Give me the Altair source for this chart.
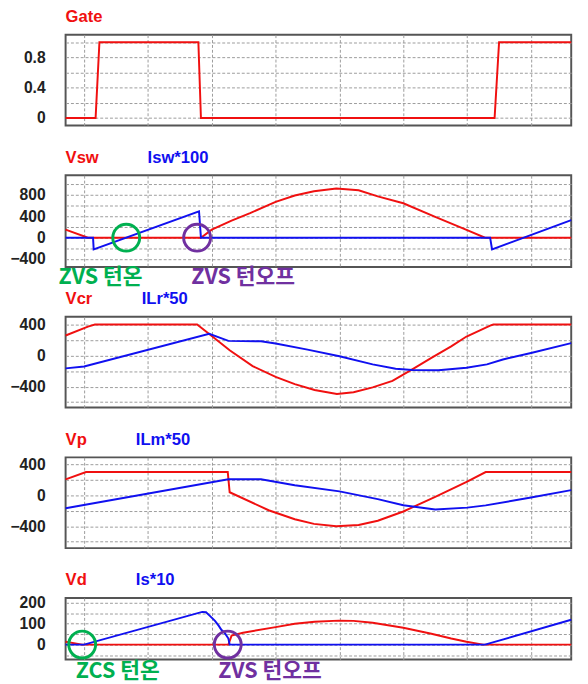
import altair as alt
import pandas as pd

RED = "#f01010"
BLUE = "#1010f0"
GREEN = "#00b050"
PURPLE = "#7030a0"
T_MIN, T_MAX = -0.29, 7.63

# ---- data (time in grid divisions) ----
gate_t = [-0.29, 0.18, 0.24, 1.79, 1.83, 6.43, 6.50, 7.63]
gate_v = [0, 0, 1, 1, 0, 0, 1, 1]

vsw_t = [-0.29, 0.06, 1.83, 2.0, 2.31, 2.6, 3.0, 3.3, 3.6, 3.95, 4.3, 4.6, 5.0, 5.5, 6.0, 6.28, 7.63]
vsw_v = [150, 0, 0, 150, 320, 460, 670, 790, 870, 920, 890, 775, 645, 390, 140, 0, 0]
isw_t = [-0.29, 0.14, 0.15, 1.80, 1.83, 6.36, 6.39, 7.63]
isw_v = [0, 0, -220, 495, 0, 0, -220, 330]

vcr_t = [-0.29, 0.06, 0.17, 1.77, 1.97, 2.28, 2.64, 3.0, 3.30, 3.61, 3.96, 4.22, 4.52, 4.83, 5.14, 5.44, 5.75, 5.99, 6.36, 6.41, 7.63]
vcr_v = [259, 373, 400, 400, 272, 69, -135, -274, -367, -443, -494, -473, -410, -325, -177, -29, 119, 246, 386, 400, 400]
ilr_t = [-0.29, 0.0, 1.96, 2.26, 2.77, 3.0, 3.5, 4.0, 4.52, 4.88, 5.14, 5.55, 5.99, 6.31, 6.56, 7.0, 7.63]
ilr_v = [-165, -140, 280, 190, 185, 155, 77, -8, -113, -169, -185, -189, -156, -113, -50, 34, 161]

vp_t = [-0.29, 0.03, 2.25, 2.28, 2.89, 3.30, 3.6, 3.95, 4.3, 4.6, 5.0, 5.5, 6.0, 6.29, 7.63]
vp_v = [206, 300, 300, 39, -194, -310, -370, -400, -385, -330, -210, -20, 175, 300, 300]
ilm_t = [-0.29, 2.26, 2.77, 3.30, 4.0, 4.6, 5.0, 5.5, 6.0, 6.29, 7.0, 7.63]
ilm_v = [-168, 206, 206, 129, 50, -50, -130, -185, -160, -131, -30, 66]

vd_t = [-0.29, -0.03, 2.26, 2.31, 2.49, 3.0, 3.30, 3.61, 3.99, 4.22, 4.52, 5.0, 5.44, 5.75, 5.99, 6.25, 7.63]
vd_v = [14, 0, 0, 43, 57, 84, 100, 110, 115, 114, 105, 81, 52, 29, 14, 0, 0]
is_t = [-0.29, 0.0, 1.85, 1.91, 1.97, 2.05, 2.11, 2.15, 2.20, 2.26, 2.28, 6.28, 7.63]
is_v = [0, 0, 157, 155, 138, 114, 90, 71, 57, 29, 0, 0, 119]

# annotations: (time, value, label)
ann_circles_sw = [(0.66, 0, "g"), (1.77, 0, "p")]
ann_text_sw = [(-0.40, -745, "ZVS 턴온", "g"), (1.68, -745, "ZVS 턴오프", "p")]
ann_circles_d = [(-0.03, 0, "g"), (2.25, 0, "p")]
ann_text_d = [(-0.13, -125, "ZCS 턴온", "g"), (2.10, -125, "ZVS 턴오프", "p")]

LABEL_FONT = "Liberation Sans"
KR_FONT = "Noto Sans CJK KR"


def xenc():
    return alt.X("t:Q", scale=alt.Scale(domain=[T_MIN, T_MAX], nice=False, zero=False),
                 axis=alt.Axis(values=list(range(0, 8)), labels=False, ticks=False,
                               domain=False, title=None, grid=True))


def yenc(domain, grid_vals, label_expr):
    return alt.Y("v:Q", scale=alt.Scale(domain=domain, nice=False, zero=False),
                 axis=alt.Axis(values=grid_vals, labelExpr=label_expr, ticks=False,
                               domain=False, title=None, grid=True))


def line_layer(ts, vs, color, domain, grid_vals, label_expr):
    df = pd.DataFrame({"t": ts, "v": vs, "i": list(range(len(ts)))})
    return alt.Chart(df).mark_line(strokeWidth=2, color=color).encode(
        x=xenc(), y=yenc(domain, grid_vals, label_expr), order="i:Q")


def label_layer(txt, color, dx):
    return alt.Chart(pd.DataFrame({"s": [txt]})).mark_text(
        align="left", baseline="alphabetic", font=LABEL_FONT, fontWeight="bold",
        fontSize=17, color=color, dx=dx).encode(
        x=alt.value(0), y=alt.value(-13), text="s:N")


def ann_layers(circles, texts, domain, grid_vals, label_expr):
    out = []
    cmap = {"g": GREEN, "p": PURPLE}
    for t, v, c in circles:
        df = pd.DataFrame({"t": [t], "v": [v]})
        out.append(alt.Chart(df).mark_point(shape="circle", size=760, filled=False,
                                             strokeWidth=3, color=cmap[c], opacity=1).encode(
            x=xenc(), y=yenc(domain, grid_vals, label_expr)))
    for t, v, s, c in texts:
        df = pd.DataFrame({"t": [t], "v": [v], "s": [s]})
        out.append(alt.Chart(df).mark_text(align="left", baseline="middle", font=KR_FONT,
                                            fontWeight="bold", fontSize=22, color=cmap[c]).encode(
            x=xenc(), y=yenc(domain, grid_vals, label_expr), text="s:N"))
    return out


def panel(height, domain, grid_vals, label_expr, lines, labels, extra=()):
    layers = [line_layer(ts, vs, col, domain, grid_vals, label_expr) for ts, vs, col in lines]
    layers += [label_layer(txt, col, dx) for txt, col, dx in labels]
    layers += list(extra)
    return alt.layer(*layers).properties(width=518, height=height)


p1 = panel(93, [-0.1, 1.1], [0, 0.2, 0.4, 0.6, 0.8, 1.0],
           "(round(datum.value*10) % 4 == 0) ? format(datum.value, '.1~f') : ''",
           [(gate_t, gate_v, RED)], [("Gate", RED, 0)])

d2 = [-550, 1170]
g2 = [-400, -200, 0, 200, 400, 600, 800, 1000]
e2 = "(datum.value % 400 == 0) ? datum.label : ''"
p2 = panel(94, d2, g2, e2,
           [(vsw_t, vsw_v, RED), (isw_t, isw_v, BLUE)],
           [("Vsw", RED, 0), ("Isw*100", BLUE, 84)],
           ann_layers(ann_circles_sw, ann_text_sw, d2, g2, e2))

g3 = [-600, -400, -200, 0, 200, 400]
e3 = "(datum.value % 400 == 0) ? datum.label : ''"
p3 = panel(93, [-670, 500], g3, e3,
           [(vcr_t, vcr_v, RED), (ilr_t, ilr_v, BLUE)],
           [("Vcr", RED, 0), ("ILr*50", BLUE, 78)])

p4 = panel(93, [-684, 490], g3, e3,
           [(vp_t, vp_v, RED), (ilm_t, ilm_v, BLUE)],
           [("Vp", RED, 0), ("ILm*50", BLUE, 72)])

d5 = [-71, 224]
g5 = [-50, 0, 50, 100, 150, 200]
e5 = "(datum.value % 100 == 0) ? datum.label : ''"
p5 = panel(63, d5, g5, e5,
           [(vd_t, vd_v, RED), (is_t, is_v, BLUE)],
           [("Vd", RED, 0), ("Is*10", BLUE, 72)],
           ann_layers(ann_circles_d, ann_text_d, d5, g5, e5))

chart = alt.vconcat(p1, p2, p3, p4, p5, spacing=51, bounds="flush").properties(
    padding={"left": 0, "top": -9, "right": 4, "bottom": 0}
).configure_view(
    stroke="#555555", strokeWidth=2
).configure_axis(
    labelFont=LABEL_FONT, labelFontSize=16, labelFontWeight="bold", labelColor="#222222",
    labelPadding=21, gridColor="#9a9a9a", gridDash=[3, 2], gridWidth=1, gridOpacity=1
)

chart.save("out.html", embed_options={"renderer": "svg", "actions": False})
